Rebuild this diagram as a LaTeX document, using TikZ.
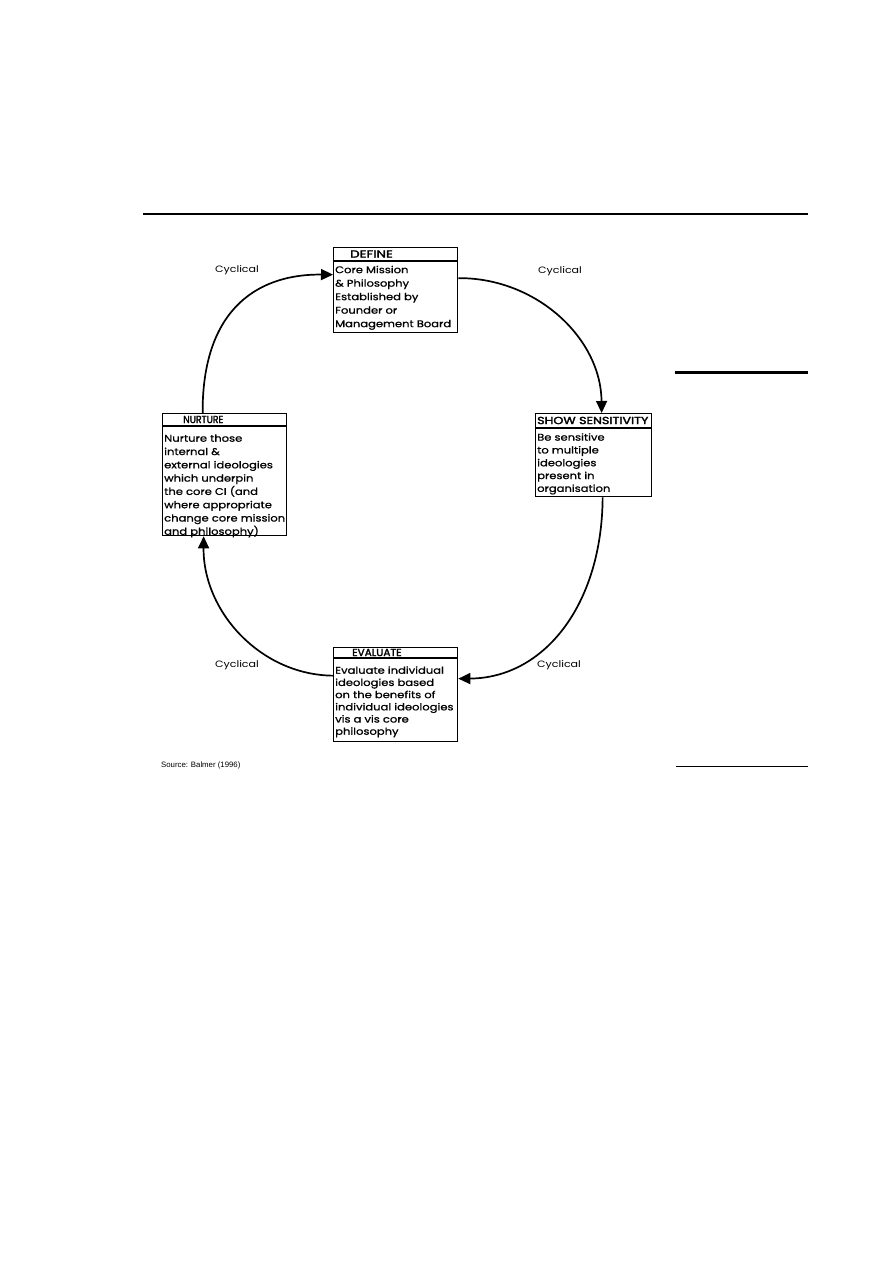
\documentclass[tikz,border=0pt]{standalone}
\usepackage{fontspec}
\usepackage{graphicx}
\usetikzlibrary{arrows.meta}
\newfontfamily\boxfont{Poppins}[FakeBold=1,FakeStretch=1.19]
\newfontfamily\cycfont{Poppins}[FakeStretch=1.2]
\newfontfamily\titlefont{Poppins}[FakeBold=2.2]
\newfontfamily\srcfont{Liberation Sans}
\begin{document}
\begin{tikzpicture}[x=1pt,y=-1pt,
  boxshape/.style={draw,line width=1.3pt,rectangle,inner sep=0pt,anchor=north west},
  hdr/.style={line width=1.1pt},
  ttl/.style={anchor=west,inner sep=0pt,font=\titlefont\fontsize{10.3}{11}\selectfont},
  body/.style={anchor=north west,inner sep=0pt,align=left},
  cyc/.style={inner sep=0pt,font=\cycfont\fontsize{9.2}{10}\selectfont},
  arc/.style={line width=1.7pt,-{Triangle[length=12pt,width=11pt]}},
  rule/.style={line width=#1}]
\useasboundingbox (0,0) rectangle (893,1263);
% rules
\coordinate (r1a) at (143,214); \coordinate (r1b) at (808,214);
\draw[rule=1.5pt] (r1a) -- (r1b);
\coordinate (r2a) at (675,372); \coordinate (r2b) at (808,372);
\draw[rule=3pt] (r2a) -- (r2b);
\coordinate (r3a) at (676,766); \coordinate (r3b) at (808,766);
\draw[rule=1pt] (r3a) -- (r3b);
\node[anchor=west,inner sep=0pt,font=\srcfont\fontsize{7.8}{9}\selectfont] (src) at (161,765) {Source: Balmer (1996)};
% DEFINE
\node[boxshape,minimum width=124pt,minimum height=85pt] (define) at (333,247) {};
\draw[hdr] (333,261) -- (457,261);
\node[ttl] (defineT) at (350,254) {\scalebox{1.3}[1]{DEFINE}};
\node[body,font=\boxfont\fontsize{9.7}{13.5}\selectfont] (defineB) at (335,263.5) {\strut Core Mission\\\& Philosophy\\Established by\\Founder or\\Management Board};
% SHOW SENSITIVITY
\node[boxshape,minimum width=116pt,minimum height=83pt] (show) at (535,413) {};
\draw[hdr] (535,428) -- (651,428);
\node[ttl] (showT) at (537,420.5) {\scalebox{1.23}[1]{SHOW SENSITIVITY}};
\node[body,font=\boxfont\fontsize{9.7}{12.8}\selectfont] (showB) at (537,431.5) {\strut Be sensitive\\to multiple\\ideologies\\present in\\organisation};
% NURTURE
\node[boxshape,minimum width=124pt,minimum height=122pt] (nurture) at (162,413) {};
\draw[hdr] (162,426) -- (286,426);
\node[ttl] (nurtureT) at (183,419.5) {\scalebox{0.9}[1]{NURTURE}};
\node[body,font=\boxfont\fontsize{9.7}{13.3}\selectfont] (nurtureB) at (164,432.2) {\strut Nurture those\\internal \&\\external ideologies\\which underpin\\the core CI (and\\where appropriate\\change core mission\\and philosophy)};
% EVALUATE
\node[boxshape,minimum width=124pt,minimum height=94pt] (evaluate) at (333,647) {};
\draw[hdr] (333,658) -- (457,658);
\node[ttl] (evaluateT) at (352,652.5) {\scalebox{1.02}[1]{EVALUATE}};
\node[body,font=\boxfont\fontsize{9.7}{12.2}\selectfont] (evaluateB) at (335,665) {\strut Evaluate individual\\ideologies based\\on the benefits of\\individual ideologies\\vis a vis core\\philosophy};
% arcs
\draw[arc] ([xshift=-22pt]nurture.north) .. controls (202,315) and (252,274) .. ([yshift=15.5pt]define.west);
\draw[arc] ([yshift=12pt]define.east) .. controls (536,277.5) and (601,338) .. ([xshift=8pt]show.north);
\draw[arc] ([xshift=9pt]show.south) .. controls (602,605) and (544,678) .. ([yshift=16pt]evaluate.east);
\draw[arc] ([yshift=19pt]evaluate.west) .. controls (261,675) and (203,612) .. ([xshift=-21pt]nurture.south);
% labels
\node[cyc] (c1) at (237,270) {Cyclical};
\node[cyc] (c2) at (560,271) {Cyclical};
\node[cyc] (c3) at (559,665) {Cyclical};
\node[cyc] (c4) at (237,665) {Cyclical};
\end{tikzpicture}
\end{document}
